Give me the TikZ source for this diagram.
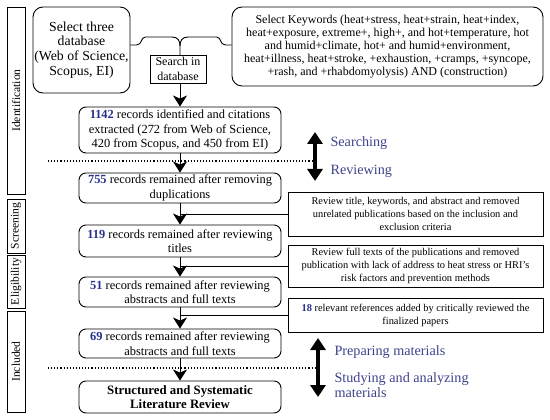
\documentclass[tikz,border=0pt]{standalone}
\usepackage{fontspec}
\setmainfont{Liberation Serif}
\usetikzlibrary{arrows.meta}
\definecolor{numblue}{RGB}{40,48,140}
\definecolor{phaseblue}{RGB}{62,66,140}
\newcommand{\num}[1]{\textcolor{numblue}{\textbf{#1}}}
\begin{document}
\begin{tikzpicture}[x=1pt, y=-1pt,
        rbox/.style={draw, rounded corners=7pt, line width=0.9pt, align=center,
                inner sep=1pt, font=\fontsize{12.4}{14.5}\selectfont},
        mainbox/.style={rbox, minimum width=202pt},
        sidebox/.style={draw, line width=0.9pt, align=center, inner sep=1pt,
                minimum width=255pt, font=\fontsize{10.4}{13}\selectfont},
        stage/.style={draw, line width=0.9pt, rotate=90, minimum height=18pt,
                inner sep=0pt, font=\fontsize{11.6}{13}\selectfont},
        flow/.style={-{Stealth[width=14pt,length=11pt,inset=3pt]}, line width=0.9pt},
        link/.style={line width=0.9pt},
        phase/.style={-{Triangle[width=15pt,length=12pt]}, line width=3.8pt},
        phasetext/.style={anchor=west, align=left, text=phaseblue,
                font=\fontsize{14.2}{14.5}\selectfont},
        sep/.style={dotted, line width=1.1pt}
    ]
    \useasboundingbox (0,0) rectangle (550,420);

    % stages
    \node[stage, minimum width=187pt] (ident) at (16,100.5) {Identification};
    \node[stage, minimum width=54pt] (screen) at (16,226) {Screening};
    \node[stage, minimum width=53pt] (elig) at (16,281.5) {Eligibility};
    \node[stage, minimum width=101pt] (incl) at (16,361.5) {Included};

    % search
    \node[rbox, minimum width=97pt, minimum height=86pt, rounded corners=10pt,
        font=\fontsize{13.8}{14.8}\selectfont] (db) at (81.5,50)
        {Select three\\database\\(Web of Science,\\Scopus, EI)};
    \node[rbox, minimum width=311pt, minimum height=79pt, rounded corners=10pt,
        font=\fontsize{12}{13}\selectfont] (kw) at (387.5,46.5)
        {Select Keywords (heat+stress, heat+strain, heat+index,\\
         heat+exposure, extreme+, high+, and hot+temperature, hot\\
         and humid+climate, hot+ and humid+environment,\\
         heat+illness, heat+stroke, +exhaustion, +cramps, +syncope,\\
         +rash, and +rhabdomyolysis) AND (construction)};
    \node[draw, line width=0.9pt, align=center, inner sep=1pt, minimum width=56pt,
        minimum height=28pt, font=\fontsize{12}{14.5}\selectfont] (search) at (178,69)
        {Search in\\database};

    % records
    \node[mainbox, minimum height=46pt] (n1142) at (180,130)
        {\num{1142} records identified and citations\\extracted (272 from Web of Science,\\420 from Scopus, and 450 from EI)};
    \node[mainbox, minimum height=30pt] (n755) at (180,188)
        {\num{755} records remained after removing\\duplications};
    \node[mainbox, minimum height=32pt] (n119) at (180,241)
        {\num{119} records remained after reviewing\\titles};
    \node[mainbox, minimum height=30pt] (n51) at (180,292)
        {\num{51} records remained after reviewing\\abstracts and full texts};
    \node[mainbox, minimum height=29pt] (n69) at (180,343.5)
        {\num{69} records remained after reviewing\\abstracts and full texts};
    \node[mainbox, minimum height=32pt, font=\fontsize{12.8}{14.5}\selectfont] (review) at (180,397)
        {\textbf{Structured and Systematic}\\\textbf{Literature Review}};

    % side notes
    \node[sidebox, minimum height=44pt] (s1) at (415.5,214)
        {Review title, keywords, and abstract and removed\\unrelated publications based on the inclusion and\\exclusion criteria};
    \node[sidebox, minimum height=42pt] (s2) at (415.5,266)
        {Review full texts of the publications and removed\\publication with lack of address to heat stress or HRI's\\risk factors and prevention methods};
    \node[sidebox, minimum height=34pt] (s3) at (415.5,315)
        {\num{18} relevant references added by critically reviewed the\\finalized papers};

    % brace
    \draw[link] (db.east |- 0,45) -- ++(6,0) .. controls +(6,0) and +(-5,0) .. ++(9,-8)
        -- (172,37) .. controls +(6,0) and +(0,-5) .. (180,46) -- (180,55);
    \draw[link] (kw.west |- 0,45) -- ++(-6,0) .. controls +(-6,0) and +(5,0) .. ++(-9,-8)
        -- (188,37) .. controls +(-6,0) and +(0,-5) .. (180,46);

    \draw[flow] (search.south -| n1142) -- (n1142);
    \draw[flow] (n1142) -- (n755);
    \draw[flow] (n755) -- (n119);
    \draw[flow] (n119) -- (n51);
    \draw[flow] (n51) -- (n69);
    \draw[flow] (n69) -- (review);

    \draw[link] (s1.west -| n755.south) -- (s1.west);
    \draw[link] (s2.west -| n119.south) -- (s2.west);
    \draw[link] (s3.west -| n51.south) -- (s3.west);

    % phases
    \coordinate (sepA) at (48,161);
    \coordinate (phA) at (315,161);
    \coordinate (sepB) at (48,368);
    \coordinate (phB) at (318,368);
    \draw[sep] (sepA) -- (phA);
    \draw[sep] (sepB) -- (phB);
    \draw[phase] (phA) -- ++(0,-29);
    \draw[phase] (phA) -- ++(0,20);
    \draw[phase] (phB) -- ++(0,-30);
    \draw[phase] (phB) -- ++(0,29);
    \node[phasetext] (searching) at (327,143) {Searching};
    \node[phasetext] (reviewing) at (327,171) {Reviewing};
    \node[phasetext] (preparing) at (331,352) {Preparing materials};
    \node[phasetext] (studying) at (331,385) {Studying and analyzing\\materials};
\end{tikzpicture}
\end{document}
